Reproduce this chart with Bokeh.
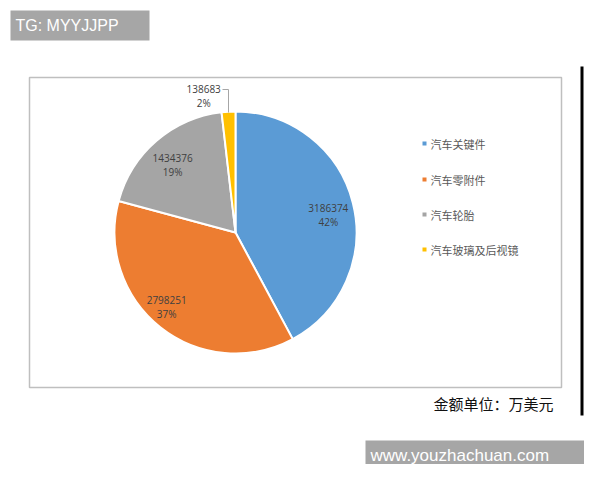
import numpy as np
from bokeh.plotting import figure
from bokeh.models import Range1d, ColumnDataSource
from bokeh.core.properties import value
from bokeh.embed import file_html
from bokeh.resources import INLINE

# data
categories = ['汽车关键件', '汽车零附件', '汽车轮胎', '汽车玻璃及后视镜']
amounts = [3186374, 2798251, 1434376, 138683]
percents = ['42%', '37%', '19%', '2%']
colors = ['#5B9BD5', '#ED7D31', '#A5A5A5', '#FFC000']

# picture pixel coordinates: x = px, y = 480 - py
W, H = 584, 464
p = figure(width=W, height=H, x_range=Range1d(0, W), y_range=Range1d(480 - H, 480),
           output_backend="svg", toolbar_location=None, min_border=0)
p.axis.visible = False
p.grid.visible = False
p.outline_line_color = None
p.background_fill_color = 'white'

def Y(py):
    return 480 - py

# chart frame
p.quad(left=29, right=561, top=Y(77), bottom=Y(387), fill_color='white',
       line_color='#BFBFBF', line_width=1.5)
# black edge on the right
p.quad(left=580, right=583, top=Y(66), bottom=Y(415), fill_color='black', line_color=None)

# pie
cx, cy, R = 235, Y(232), 121
frac = np.array(amounts) / sum(amounts)
cum = np.concatenate([[0], np.cumsum(frac)])
start = np.pi / 2 - cum[1:] * 2 * np.pi
end = np.pi / 2 - cum[:-1] * 2 * np.pi
src = ColumnDataSource(dict(start=start, end=end, color=colors))
p.wedge(x=cx, y=cy, radius=R, start_angle='start', end_angle='end', fill_color='color',
        line_color='white', line_width=2, source=src)

# data labels (placed along each slice's middle angle)
mid = (cum[:-1] + cum[1:]) / 2 * 2 * np.pi
r_fac = [0.78, 0.84, 0.76, 1.16]
a_off = np.radians([3.7, 4.2, -2.4, -9.8])
lx = [cx + R * f * np.sin(a + o) for f, a, o in zip(r_fac, mid, a_off)]
ly = [cy + R * f * np.cos(a + o) for f, a, o in zip(r_fac, mid, a_off)]
p.text(x=lx, y=[v + 7 for v in ly], text=[str(a) for a in amounts], text_align='center',
       text_baseline='middle', text_font=value('Open Sans'), text_font_size='10px',
       text_color='#404040')
p.text(x=lx, y=[v - 7 for v in ly], text=percents, text_align='center',
       text_baseline='middle', text_font=value('Open Sans'), text_font_size='10px',
       text_color='#404040')
# leader line for the small slice
p.line(x=[222, 228, 228], y=[Y(89), Y(89), Y(112)], line_color='#A6A6A6', line_width=1)

# legend
leg_y = [Y(143), Y(179), Y(214), Y(249)]
p.rect(x=[424] * 4, y=leg_y, width=4, height=4, fill_color=colors, line_color=None)
p.text(x=[430] * 4, y=leg_y, text=categories, text_baseline='middle',
       text_font=value('Noto Sans CJK SC'), text_font_size='11px', text_color='#595959')

# unit note
p.text(x=[553], y=[Y(403)], text=['金额单位：万美元'], text_align='right', text_baseline='middle',
       text_font=value('Noto Sans CJK SC'), text_font_size='15px', text_color='#111111')

# watermarks
p.quad(left=10, right=149, top=Y(10), bottom=Y(40), fill_color='#A6A6A6', line_color=None)
p.text(x=[15], y=[Y(25)], text=['TG: MYYJJPP'], text_baseline='middle',
       text_font=value('Liberation Sans'), text_font_size='16px', text_color='white')
p.quad(left=365, right=584, top=Y(440), bottom=Y(469), fill_color='#A6A6A6', line_color=None)
p.text(x=[370], y=[Y(455)], text=['www.youzhachuan.com'], text_baseline='middle',
       text_font=value('Liberation Sans'), text_font_size='17px', text_color='white')

open("out.html", "w").write(file_html(p, INLINE))
